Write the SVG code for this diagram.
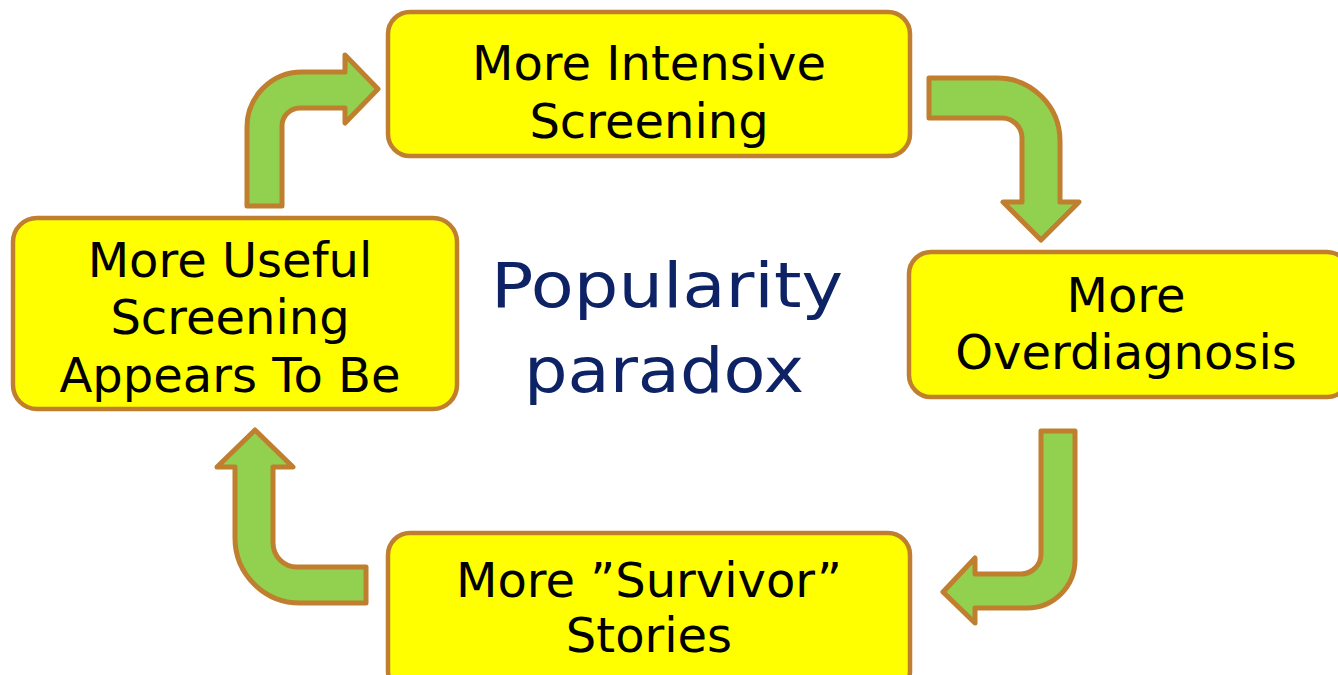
<svg xmlns="http://www.w3.org/2000/svg" width="1338" height="675" viewBox="0 0 1338 675">
<style>
.box{fill:#FFFF00;stroke:#C07F2F;stroke-width:4.5}
.arr{fill:#92D050;stroke:#C07F2F;stroke-width:5;stroke-linejoin:round}
.t{font-family:"DejaVu Sans","Verdana",sans-serif;font-size:48px;fill:#000;text-anchor:middle}
.c{font-family:"DejaVu Sans","Verdana",sans-serif;font-size:63px;fill:#0D2366;text-anchor:middle}
</style>
<rect width="1338" height="675" fill="#FFFFFF"/>
<g id="connectors">
<path class="arr" d="M247,206 L247,127 A55,55 0 0 1 302,72 L345,72 L345,55 L378,89 L345,123 L345,108 L300,108 A18,18 0 0 0 282,126 L282,206 Z"/>
<path class="arr" d="M929,78 L997,78 A63,63 0 0 1 1060,141 L1060,202 L1079,202 L1041,240 L1003,202 L1022,202 L1022,138 A20,20 0 0 0 1002,118 L929,118 Z"/>
<path class="arr" d="M1041,431 L1075,431 L1075,560 A48,48 0 0 1 1027,608 L975,608 L975,623 L943,592 L975,558 L975,574 L1021,574 A20,20 0 0 0 1041,554 Z"/>
<path class="arr" d="M366,567 L366,603 L300,603 A65,65 0 0 1 235,538 L235,467 L217,467 L255,430 L293,467 L273,467 L273,543 A24,24 0 0 0 297,567 Z"/>
</g>
<g id="node-intensive">
<rect class="box" x="388" y="12" width="522" height="144" rx="22"/>
<text class="t" x="649" y="80">More Intensive</text>
<text class="t" x="649" y="138">Screening</text>
</g>
<g id="node-overdiagnosis">
<rect class="box" x="909" y="252" width="440" height="145" rx="22"/>
<text class="t" x="1126" y="312">More</text>
<text class="t" x="1126" y="369">Overdiagnosis</text>
</g>
<g id="node-survivor">
<rect class="box" x="388" y="533" width="522" height="160" rx="22"/>
<text class="t" x="649" y="597">More ”Survivor”</text>
<text class="t" x="649" y="652">Stories</text>
</g>
<g id="node-useful">
<rect class="box" x="13" y="218" width="444" height="191" rx="24"/>
<text class="t" x="230" y="277">More Useful</text>
<text class="t" x="230" y="334">Screening</text>
<text class="t" x="230" y="392">Appears To Be</text>
</g>
<g id="title">
<text class="c" x="667" y="307" textLength="352" lengthAdjust="spacingAndGlyphs">Popularity</text>
<text class="c" x="664" y="392" textLength="280" lengthAdjust="spacingAndGlyphs">paradox</text>
</g>
</svg>
